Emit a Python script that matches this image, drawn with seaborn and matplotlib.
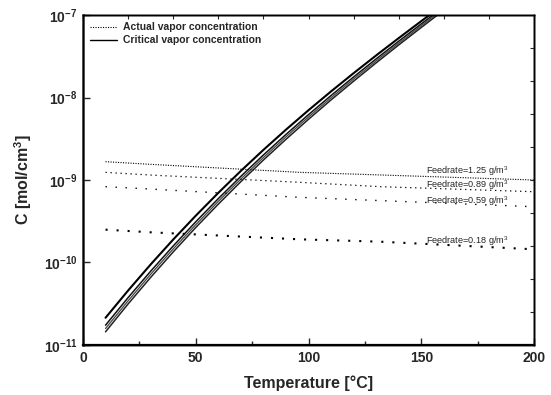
import numpy as np
import pandas as pd
import matplotlib
matplotlib.use('Agg')
import matplotlib.pyplot as plt
import seaborn as sns

# Данные (log10 концентрации)
temp_crit = [10, 20, 30, 40, 50, 60, 70, 80, 90, 100, 110, 120, 130, 140, 150, 160]
log_crit_upper = [-10.67, -10.34, -10.024, -9.722, -9.433, -9.156, -8.89, -8.635, -8.39, -8.154,
                  -7.926, -7.705, -7.49, -7.28, -7.074, -6.871]
log_crit_low1 = [-10.76, -10.426, -10.106, -9.80, -9.507, -9.226, -8.956, -8.697, -8.448, -8.208,
                 -7.976, -7.751, -7.532, -7.318, -7.108, -6.901]
log_crit_low2 = [-10.80, -10.465, -10.143, -9.836, -9.542, -9.259, -8.988, -8.728, -8.477, -8.236,
                 -8.003, -7.776, -7.556, -7.341, -7.129, -6.921]
log_crit_low3 = [-10.84, -10.503, -10.181, -9.872, -9.576, -9.293, -9.02, -8.758, -8.507, -8.264,
                 -8.029, -7.802, -7.58, -7.363, -7.151, -6.941]

temp_act = [10, 30, 96, 132, 200]
log_act_125 = [-8.778, -8.81, -8.907, -8.939, -9.0]
log_act_089 = [-8.907, -8.94, -9.028, -9.081, -9.142]
log_act_059 = [-9.081, -9.11, -9.21, -9.25, -9.324]
log_act_018 = [-9.602, -9.634, -9.719, -9.748, -9.84]

feed_labels = ['Feedrate=1.25 g/m$^3$', 'Feedrate=0.89 g/m$^3$',
               'Feedrate=0.59 g/m$^3$', 'Feedrate=0.18 g/m$^3$']
feed_label_y = [1.28e-9, 8.7e-10, 5.6e-10, 1.82e-10]
feed_label_x = 152

sns.set_style('ticks')
plt.rcParams['font.family'] = ['Liberation Sans', 'DejaVu Sans']
plt.rcParams['mathtext.fontset'] = 'custom'
plt.rcParams['mathtext.rm'] = 'Liberation Sans'
plt.rcParams['mathtext.bf'] = 'Liberation Sans:bold'

fig = plt.figure(figsize=(5.51, 3.95), dpi=100)
ax = fig.add_axes([0.1506, 0.1266, 0.8186, 0.8354])

crit = pd.DataFrame({'T': temp_crit, 'up': log_crit_upper, 'l1': log_crit_low1,
                     'l2': log_crit_low2, 'l3': log_crit_low3})
act = pd.DataFrame({'T': temp_act, 'f125': log_act_125, 'f089': log_act_089,
                    'f059': log_act_059, 'f018': log_act_018})

# Критическая концентрация
sns.lineplot(x=crit['T'], y=10 ** crit['up'], ax=ax, color='black', lw=1.5,
             label='Critical vapor concentration')
for col, lw, c in [('l1', 1.1, '#111111'), ('l2', 0.9, '#444444'), ('l3', 1.1, '#222222')]:
    sns.lineplot(x=crit['T'], y=10 ** crit[col], ax=ax, color=c, lw=lw, legend=False)

# Фактическая концентрация
styles = [('f125', 0.8, (0, (1, 1.25))), ('f089', 0.9, (0, (1, 3))),
          ('f059', 1.0, (0, (1, 6.2))), ('f018', 1.5, (0, (1, 4.3)))]
for i, (col, lw, ls) in enumerate(styles):
    sns.lineplot(x=act['T'], y=10 ** act[col], ax=ax, color='black', lw=lw,
                 linestyle=ls, label='Actual vapor concentration' if i == 0 else None,
                 legend=False)

for txt, yv in zip(feed_labels, feed_label_y):
    ax.text(feed_label_x, yv, txt, fontsize=6.6, va='center', ha='left')

ax.set_yscale('log')
ax.set_xlim(0, 200)
ax.set_ylim(1e-11, 1e-7)

ax.set_xticks([0, 50, 100, 150, 200])
ax.set_xticks([25, 75, 125, 175], minor=True)
ax.set_xticklabels(['0', '50', '100', '150', '200'], fontweight='bold', fontsize=10)
ax.set_yticks([1e-11, 1e-10, 1e-9, 1e-8, 1e-7])
ax.set_yticks([], minor=True)
ax.set_yticklabels([r'$\mathbf{10^{-11}}$', r'$\mathbf{10^{-10}}$', r'$\mathbf{10^{-9}}$',
                    r'$\mathbf{10^{-8}}$', r'$\mathbf{10^{-7}}$'], fontsize=10)
ax.tick_params(axis='both', which='major', direction='in', length=5, width=1, pad=4)
ax.tick_params(axis='both', which='minor', direction='in', length=3, width=1)

ax.set_xlabel('Temperature [°C]', fontsize=11.5, fontweight='bold', labelpad=8)
ax.set_ylabel(r'C [mol/cm$^\mathbf{3}$]', fontsize=11.5, fontweight='bold', labelpad=7)

# Верхняя и правая оси: только деления
axt = ax.twiny()
axt.set_xlim(0, 200)
axt.set_xticks(np.arange(20, 200, 20))
axt.tick_params(axis='x', direction='in', length=3, labeltop=False)
axr = ax.twinx()
axr.set_yscale('log')
axr.set_ylim(1e-11, 1e-7)
axr.set_yticks(10 ** (-11 + 0.4 * np.arange(1, 10)))
axr.set_yticks([], minor=True)
axr.tick_params(axis='y', direction='in', length=3, labelright=False)

for a in (ax, axt, axr):
    for s in a.spines.values():
        s.set_linewidth(1.0)
        s.set_color('black')
ax.spines['left'].set_linewidth(1.8)
ax.spines['left'].set_color('#555555')
ax.spines['bottom'].set_linewidth(1.6)

handles, labels = ax.get_legend_handles_labels()
order = [labels.index('Actual vapor concentration'), labels.index('Critical vapor concentration')]
leg = ax.legend([handles[i] for i in order], [labels[i] for i in order], loc='upper left',
                frameon=False, fontsize=7.5, handlelength=2.6, borderaxespad=0.3,
                labelspacing=0.3, handletextpad=0.5)
for t in leg.get_texts():
    t.set_fontweight('bold')
leg.get_lines()[1].set_linewidth(1.0)

fig.savefig('out.png', dpi=100)
